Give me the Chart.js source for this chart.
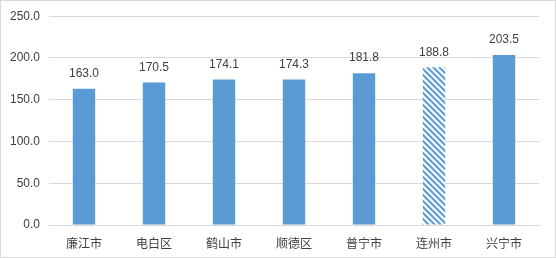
<!DOCTYPE html>
<html>
<head>
<meta charset="utf-8">
<script src="https://cdn.jsdelivr.net/npm/chart.js@4/dist/chart.umd.min.js"></script>
<style>
  html, body { margin: 0; padding: 0; background: #fff; }
  #box { position: absolute; left: 0; top: 0; width: 556px; height: 258px; box-sizing: border-box; border: 1px solid #d9d9d9; }
  #grafico { position: absolute; left: 0; top: 0; }
</style>
</head>
<body>
<div id="box"></div>
<canvas id="grafico" width="556" height="258"></canvas>
<script>
// datos
var ciudades = ['廉江市', '电白区', '鹤山市', '顺德区', '普宁市', '连州市', '兴宁市'];
var valores = [163.0, 170.5, 174.1, 174.3, 181.8, 188.8, 203.5];
var ticksY = [0, 50, 100, 150, 200, 250];
var rayado = [false, false, false, false, false, true, false];

var azul = '#5b9bd5';

// patron de rayas diagonales
function crearRayas() {
    var c = document.createElement('canvas');
    c.width = 6; c.height = 6;
    var g = c.getContext('2d');
    g.fillStyle = '#fff';
    g.fillRect(0, 0, 6, 6);
    g.strokeStyle = azul;
    g.lineWidth = 2;
    g.beginPath();
    g.moveTo(-1, -1); g.lineTo(7, 7);
    g.moveTo(-4, 2); g.lineTo(4, 10);
    g.moveTo(2, -4); g.lineTo(10, 4);
    g.stroke();
    return g.createPattern(c, 'repeat');
}

var ctx = document.getElementById('grafico').getContext('2d');
var patron = crearRayas();
var colores = rayado.map(function(r) { return r ? patron : azul; });

// etiquetas encima de las barras
var etiquetas = {
    id: 'etiquetas',
    afterDatasetsDraw: function(chart) {
        var c = chart.ctx;
        var meta = chart.getDatasetMeta(0);
        c.save();
        c.font = '12px "Liberation Sans"';
        c.fillStyle = '#404040';
        c.textAlign = 'center';
        c.textBaseline = 'middle';
        meta.data.forEach(function(bar, i) {
            c.fillText(valores[i].toFixed(1), bar.x, bar.y - 15);
        });
        c.restore();
    }
};

var grafico = new Chart(ctx, {
    type: 'bar',
    data: {
        labels: ciudades,
        datasets: [{
            data: valores,
            backgroundColor: colores,
            borderWidth: 0,
            categoryPercentage: 1,
            barPercentage: 0.32
        }]
    },
    options: {
        responsive: false,
        animation: false,
        layout: { padding: { left: 0, right: 17, top: 15, bottom: 0 } },
        plugins: { legend: { display: false }, tooltip: { enabled: false } },
        scales: {
            x: {
                grid: { display: false },
                border: { display: true, color: '#d9d9d9' },
                ticks: { color: '#404040', font: { family: '"Noto Sans CJK SC"', size: 12 }, padding: 3 },
                afterFit: function(s) { s.height = 33; }
            },
            y: {
                min: 0,
                max: 250,
                afterBuildTicks: function(s) { s.ticks = ticksY.map(function(v) { return { value: v }; }); },
                grid: { color: '#d9d9d9', drawTicks: false },
                border: { display: false },
                ticks: {
                    color: '#404040',
                    padding: 9,
                    font: { family: '"Liberation Sans"', size: 12 },
                    callback: function(v) { return v.toFixed(1); }
                },
                afterFit: function(s) { s.width = 49; }
            }
        }
    },
    plugins: [etiquetas]
});
</script>
</body>
</html>
